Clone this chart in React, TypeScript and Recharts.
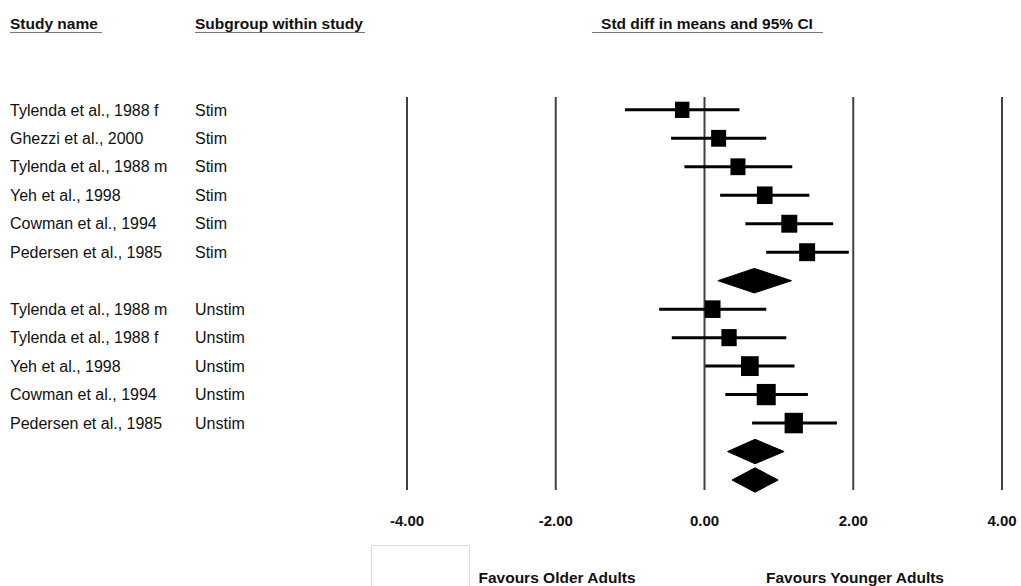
import { ErrorBar, ReferenceLine, Scatter, ScatterChart, XAxis, YAxis, ZAxis } from "recharts";

// individual studies, top to bottom
const studyNames = [
  "Tylenda et al., 1988 f",
  "Ghezzi et al., 2000",
  "Tylenda et al., 1988 m",
  "Yeh et al., 1998",
  "Cowman et al., 1994",
  "Pedersen et al., 1985",
  "Tylenda et al., 1988 m",
  "Tylenda et al., 1988 f",
  "Yeh et al., 1998",
  "Cowman et al., 1994",
  "Pedersen et al., 1985",
];
const subgroups = ["Stim", "Stim", "Stim", "Stim", "Stim", "Stim", "Unstim", "Unstim", "Unstim", "Unstim", "Unstim"];
const studyRows = [0, 1, 2, 3, 4, 5, 7, 8, 9, 10, 11];
const means = [-0.3, 0.19, 0.45, 0.81, 1.14, 1.38, 0.11, 0.33, 0.61, 0.83, 1.2];
const lowers = [-1.07, -0.45, -0.27, 0.21, 0.55, 0.83, -0.61, -0.44, 0.01, 0.28, 0.64];
const uppers = [0.47, 0.83, 1.18, 1.41, 1.73, 1.94, 0.83, 1.1, 1.21, 1.39, 1.78];
const weights = [21.0, 22.5, 22.5, 24.6, 25.6, 25.6, 24.6, 23.4, 31.3, 36.1, 33.5];

// pooled estimates (diamonds)
const summaryRows = [6, 12, 13];
const summaryMeans = [0.67, 0.68, 0.68];
const summaryLowers = [0.18, 0.31, 0.37];
const summaryUppers = [1.17, 1.07, 0.99];

const xTicks = [-4, -2, 0, 2, 4];

const DIAMOND_HALF = 0.43;
const FONT = "'Liberation Sans', Arial, Helvetica, sans-serif";

const studyData = studyRows.map((row, i) => ({
  row,
  x: means[i],
  err: [means[i] - lowers[i], uppers[i] - means[i]],
  weight: weights[i],
}));

const diamondData = summaryRows.map((row, i) => [
  { row, x: summaryLowers[i] },
  { row: row - DIAMOND_HALF, x: summaryMeans[i] },
  { row, x: summaryUppers[i] },
  { row: row + DIAMOND_HALF, x: summaryMeans[i] },
  { row, x: summaryLowers[i] },
]);

function StudyTick(props: any) {
  const { y, payload } = props;
  const i = studyRows.indexOf(payload.value);
  if (i < 0) return <g />;
  return (
    <g>
      <text x={10} y={y} dy={5.7} fontSize={16} fill="#111">
        {studyNames[i]}
      </text>
      <text x={195} y={y} dy={5.7} fontSize={16} fill="#111">
        {subgroups[i]}
      </text>
    </g>
  );
}

function WeightSquare(props: any) {
  const { cx, cy, width } = props;
  const w = width || 15;
  const h = w * 1.12;
  return <rect x={cx - w / 2} y={cy - h / 2} width={w} height={h} fill="#000" />;
}

export default function App() {
  return (
    <div style={{ position: "absolute", left: 0, top: 0, width: 1021, height: 586, background: "#fff", fontFamily: FONT }}>
      <ScatterChart width={1021} height={586} margin={{ top: 97, right: 19, bottom: 53.2, left: 0 }}>
        <XAxis
          type="number"
          dataKey="x"
          domain={[-4, 4]}
          ticks={xTicks}
          allowDataOverflow
          axisLine={false}
          tickLine={false}
          tickSize={0}
          tickMargin={13}
          height={30}
          tickFormatter={(v: number) => v.toFixed(2)}
          tick={{ fill: "#111", fontSize: 15, fontWeight: "bold" }}
        />
        <YAxis
          type="number"
          dataKey="row"
          domain={[-0.45, 13.8]}
          reversed
          allowDataOverflow
          ticks={studyRows}
          interval={0}
          width={407}
          axisLine={false}
          tickLine={false}
          tick={(p: any) => <StudyTick {...p} />}
        />
        <ZAxis type="number" dataKey="weight" domain={[0, 40]} range={[0, 314.16]} />
        {xTicks.map((t) => (
          <ReferenceLine
            key={t}
            segment={[
              { x: t, y: -0.45 },
              { x: t, y: 13.35 },
            ]}
            stroke="#404040"
            strokeWidth={2}
          />
        ))}
        <Scatter data={studyData} shape={WeightSquare} isAnimationActive={false}>
          <ErrorBar dataKey="err" direction="x" width={0} strokeWidth={3} stroke="#000" isAnimationActive={false} />
        </Scatter>
        {diamondData.map((d, i) => (
          <Scatter
            key={i}
            data={d}
            line={{ stroke: "#000", fill: "#000", strokeWidth: 1 }}
            lineType="joint"
            shape={() => <g />}
            isAnimationActive={false}
          />
        ))}
      </ScatterChart>

      <svg width={1021} height={586} style={{ position: "absolute", left: 0, top: 0, pointerEvents: "none" }}>
        <g fontFamily={FONT} fontWeight="bold" fontSize={15.5} fill="#111">
          <text x={10} y={29}>Study name</text>
          <text x={195} y={29}>Subgroup within study</text>
          <text x={707} y={29} textAnchor="middle">Std diff in means and 95% CI</text>
          <text x={557} y={583} textAnchor="middle">Favours Older Adults</text>
          <text x={855} y={583} textAnchor="middle">Favours Younger Adults</text>
        </g>
        <g stroke="#777" strokeWidth={1}>
          <line x1={10} x2={102} y1={32.5} y2={32.5} />
          <line x1={195} x2={365} y1={32.5} y2={32.5} />
          <line x1={592} x2={823} y1={32.5} y2={32.5} />
        </g>
        <rect x={371.5} y={545.5} width={98} height={60} fill="none" stroke="#ddd" />
      </svg>
    </div>
  );
}
